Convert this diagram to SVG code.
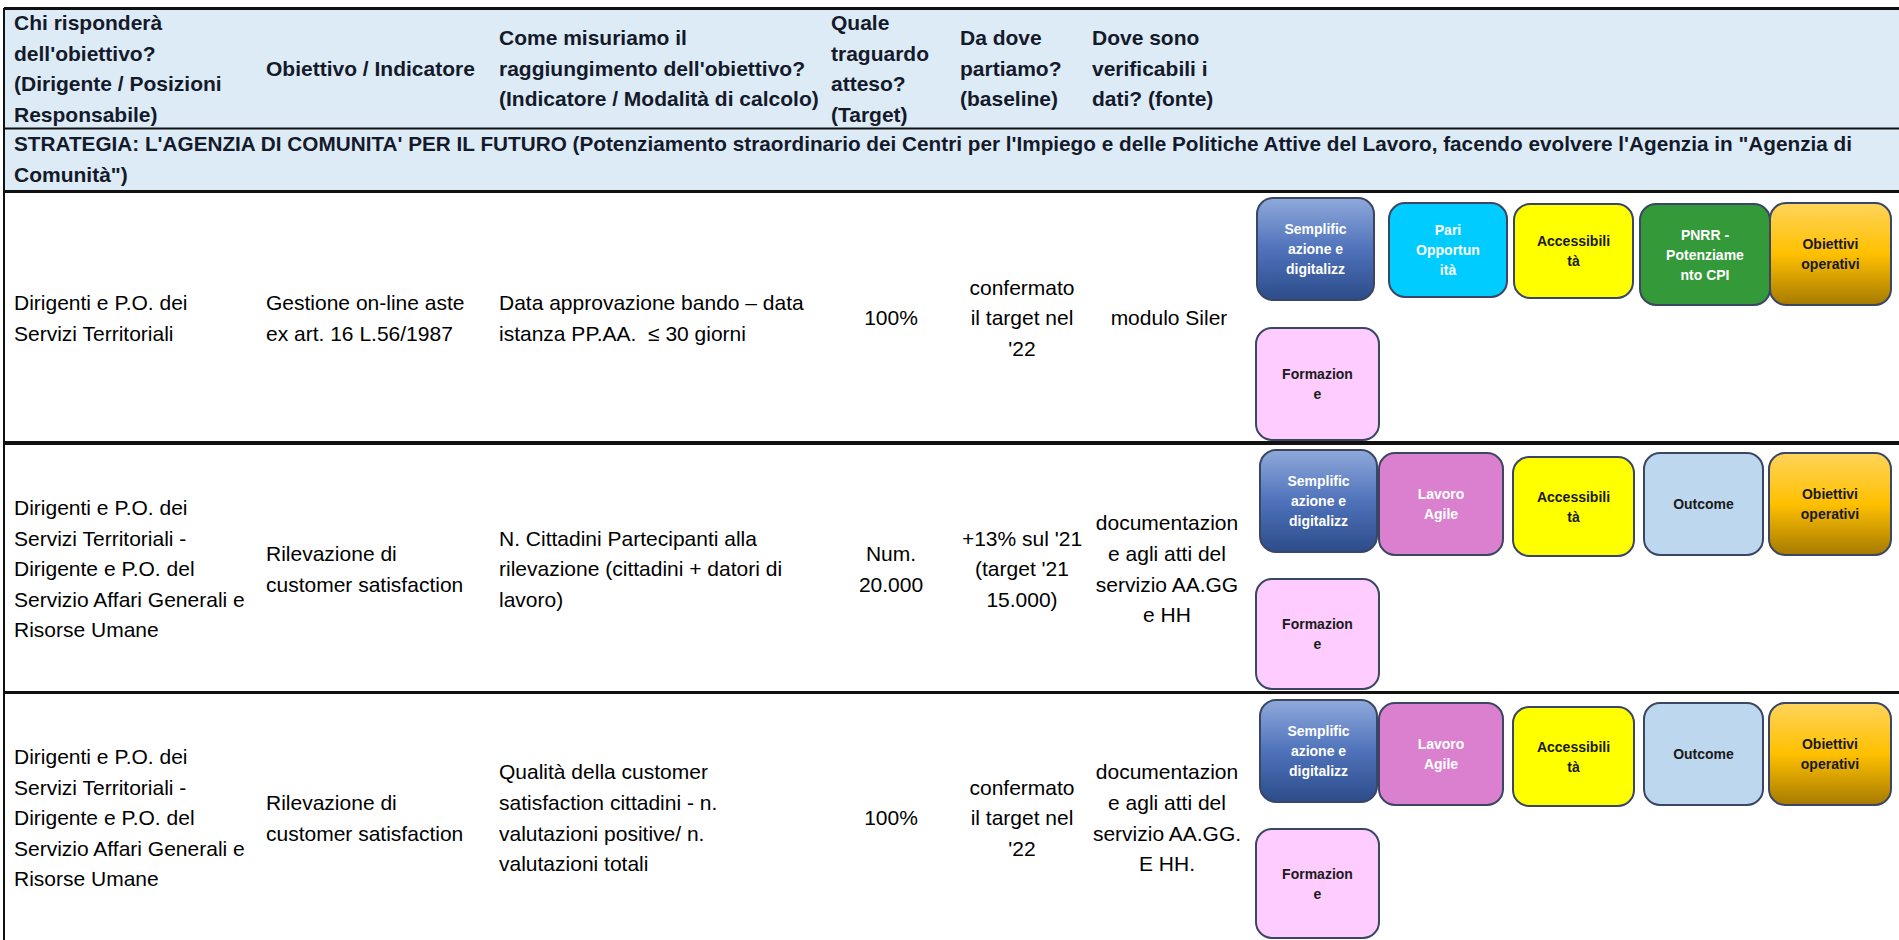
<svg xmlns="http://www.w3.org/2000/svg" width="1899" height="940" viewBox="0 0 1899 940">
<defs>
<linearGradient id="gSem" x1="0" y1="0" x2="0" y2="1">
<stop offset="0" stop-color="#8FA9DB"/><stop offset="0.5" stop-color="#4F72BA"/><stop offset="1" stop-color="#2C4C8A"/>
</linearGradient>
<linearGradient id="gObi" x1="0" y1="0" x2="0" y2="1">
<stop offset="0" stop-color="#FFD45A"/><stop offset="0.5" stop-color="#FFC000"/><stop offset="1" stop-color="#A67A00"/>
</linearGradient>
<style>
.h{font-family:"Liberation Sans",Arial,sans-serif;font-weight:bold;font-size:21px;fill:#141a2a}
.t{font-family:"Liberation Sans",Arial,sans-serif;font-size:21px;fill:#000}
.c{text-anchor:middle}
.b{font-family:"Liberation Sans",Arial,sans-serif;font-weight:bold;font-size:14px;text-anchor:middle}
.w{fill:#fff}
.k{fill:#1a1a1a}
.btn{stroke:#3A4663;stroke-width:2}
.ln{stroke:#111;fill:none}
</style>
</defs>
<rect x="0" y="0" width="1899" height="940" fill="#fff"/>
<rect x="4" y="8" width="1895" height="183" fill="#DDEBF7"/>
<g id="grid">
<path class="ln" d="M4 8.5H1899" stroke-width="3"/>
<path class="ln" d="M4 128.5H1899" stroke-width="2" stroke="#333"/>
<path class="ln" d="M4 191.5H1899" stroke-width="3"/>
<path class="ln" d="M4 443H1899" stroke-width="4"/>
<path class="ln" d="M4 692.5H1899" stroke-width="3"/>
<path class="ln" d="M4 8V940" stroke-width="2"/>
</g>
<g id="header">
<text class="h"><tspan x="14" y="30">Chi risponderà</tspan><tspan x="14" y="60.5">dell'obiettivo?</tspan><tspan x="14" y="91">(Dirigente / Posizioni</tspan><tspan x="14" y="121.5">Responsabile)</tspan></text>
<text class="h" x="266" y="75.5">Obiettivo / Indicatore</text>
<text class="h"><tspan x="499" y="45">Come misuriamo il</tspan><tspan x="499" y="75.5">raggiungimento dell'obiettivo?</tspan><tspan x="499" y="106">(Indicatore / Modalità di calcolo)</tspan></text>
<text class="h"><tspan x="831" y="30">Quale</tspan><tspan x="831" y="60.5">traguardo</tspan><tspan x="831" y="91">atteso?</tspan><tspan x="831" y="121.5">(Target)</tspan></text>
<text class="h"><tspan x="960" y="45">Da dove</tspan><tspan x="960" y="75.5">partiamo?</tspan><tspan x="960" y="106">(baseline)</tspan></text>
<text class="h"><tspan x="1092" y="45">Dove sono</tspan><tspan x="1092" y="75.5">verificabili i</tspan><tspan x="1092" y="106">dati? (fonte)</tspan></text>
</g>
<g id="strategy">
<text class="h"><tspan x="14" y="151" textLength="1838" lengthAdjust="spacingAndGlyphs">STRATEGIA: L'AGENZIA DI COMUNITA' PER IL FUTURO (Potenziamento straordinario dei Centri per l'Impiego e delle Politiche Attive del Lavoro, facendo evolvere l'Agenzia in "Agenzia di</tspan><tspan x="14" y="181.5">Comunità")</tspan></text>
</g>
<g id="row1">
<text class="t"><tspan x="14" y="310">Dirigenti e P.O. dei</tspan><tspan x="14" y="340.5">Servizi Territoriali</tspan></text>
<text class="t"><tspan x="266" y="310">Gestione on-line aste</tspan><tspan x="266" y="340.5">ex art. 16 L.56/1987</tspan></text>
<text class="t"><tspan x="499" y="310">Data approvazione bando – data</tspan><tspan x="499" y="340.5">istanza PP.AA. &#160;≤ 30 giorni</tspan></text>
<text class="t c" x="891" y="325">100%</text>
<text class="t c"><tspan x="1022" y="294.5">confermato</tspan><tspan x="1022" y="325">il target nel</tspan><tspan x="1022" y="355.5">'22</tspan></text>
<text class="t c" x="1169" y="325">modulo Siler</text>
</g>
<g id="row2">
<text class="t"><tspan x="14" y="515">Dirigenti e P.O. dei</tspan><tspan x="14" y="545.5">Servizi Territoriali -</tspan><tspan x="14" y="576">Dirigente e P.O. del</tspan><tspan x="14" y="606.5">Servizio Affari Generali e</tspan><tspan x="14" y="637">Risorse Umane</tspan></text>
<text class="t"><tspan x="266" y="561">Rilevazione di</tspan><tspan x="266" y="591.5">customer satisfaction</tspan></text>
<text class="t"><tspan x="499" y="545.5">N. Cittadini Partecipanti alla</tspan><tspan x="499" y="576">rilevazione (cittadini + datori di</tspan><tspan x="499" y="606.5">lavoro)</tspan></text>
<text class="t c"><tspan x="891" y="561">Num.</tspan><tspan x="891" y="591.5">20.000</tspan></text>
<text class="t c"><tspan x="1022" y="545.5">+13% sul '21</tspan><tspan x="1022" y="576">(target '21</tspan><tspan x="1022" y="606.5">15.000)</tspan></text>
<text class="t c"><tspan x="1167" y="530">documentazion</tspan><tspan x="1167" y="561">e agli atti del</tspan><tspan x="1167" y="591.5">servizio AA.GG</tspan><tspan x="1167" y="622">e HH</tspan></text>
</g>
<g id="row3">
<text class="t"><tspan x="14" y="764">Dirigenti e P.O. dei</tspan><tspan x="14" y="794.5">Servizi Territoriali -</tspan><tspan x="14" y="825">Dirigente e P.O. del</tspan><tspan x="14" y="855.5">Servizio Affari Generali e</tspan><tspan x="14" y="886">Risorse Umane</tspan></text>
<text class="t"><tspan x="266" y="810">Rilevazione di</tspan><tspan x="266" y="840.5">customer satisfaction</tspan></text>
<text class="t"><tspan x="499" y="779">Qualità della customer</tspan><tspan x="499" y="810">satisfaction cittadini - n.</tspan><tspan x="499" y="840.5">valutazioni positive/ n.</tspan><tspan x="499" y="871">valutazioni totali</tspan></text>
<text class="t c" x="891" y="825">100%</text>
<text class="t c"><tspan x="1022" y="794.5">confermato</tspan><tspan x="1022" y="825">il target nel</tspan><tspan x="1022" y="855.5">'22</tspan></text>
<text class="t c"><tspan x="1167" y="779">documentazion</tspan><tspan x="1167" y="810">e agli atti del</tspan><tspan x="1167" y="840.5">servizio AA.GG.</tspan><tspan x="1167" y="871">E HH.</tspan></text>
</g>
<g id="r1-semplificazione"><rect class="btn" x="1257" y="198" width="117" height="102" rx="16" fill="url(#gSem)"/><text class="b w"><tspan x="1315.5" y="234">Semplific</tspan><tspan x="1315.5" y="254">azione e</tspan><tspan x="1315.5" y="274">digitalizz</tspan></text></g>
<g id="r1-pari"><rect class="btn" x="1389" y="203" width="118" height="94" rx="16" fill="#00CCFF"/><text class="b w"><tspan x="1448" y="235">Pari</tspan><tspan x="1448" y="255">Opportun</tspan><tspan x="1448" y="275">ità</tspan></text></g>
<g id="r1-accessibilita"><rect class="btn" x="1514" y="204" width="119" height="94" rx="16" fill="#FFFF00"/><text class="b k"><tspan x="1573.5" y="246">Accessibili</tspan><tspan x="1573.5" y="266">tà</tspan></text></g>
<g id="r1-pnrr"><rect class="btn" x="1640" y="204" width="130" height="101" rx="16" fill="#339939"/><text class="b w"><tspan x="1705" y="240">PNRR -</tspan><tspan x="1705" y="260">Potenziame</tspan><tspan x="1705" y="280">nto CPI</tspan></text></g>
<g id="r1-obiettivi"><rect class="btn" x="1770" y="203" width="121" height="102" rx="16" fill="url(#gObi)"/><text class="b k"><tspan x="1830.5" y="249">Obiettivi</tspan><tspan x="1830.5" y="269">operativi</tspan></text></g>
<g id="r1-formazione"><rect class="btn" x="1256" y="328" width="123" height="112" rx="16" fill="#FFCCFF"/><text class="b k"><tspan x="1317.5" y="379">Formazion</tspan><tspan x="1317.5" y="399">e</tspan></text></g>
<g id="r2-semplificazione"><rect class="btn" x="1260" y="450" width="117" height="102" rx="16" fill="url(#gSem)"/><text class="b w"><tspan x="1318.5" y="486">Semplific</tspan><tspan x="1318.5" y="506">azione e</tspan><tspan x="1318.5" y="526">digitalizz</tspan></text></g>
<g id="r2-lavoro"><rect class="btn" x="1379" y="453" width="124" height="102" rx="16" fill="#DA80CE"/><text class="b w"><tspan x="1441" y="499">Lavoro</tspan><tspan x="1441" y="519">Agile</tspan></text></g>
<g id="r2-accessibilita"><rect class="btn" x="1513" y="457" width="121" height="99" rx="16" fill="#FFFF00"/><text class="b k"><tspan x="1573.5" y="501.5">Accessibili</tspan><tspan x="1573.5" y="521.5">tà</tspan></text></g>
<g id="r2-outcome"><rect class="btn" x="1644" y="453" width="119" height="102" rx="16" fill="#BDD7EE"/><text class="b k" x="1703.5" y="509">Outcome</text></g>
<g id="r2-obiettivi"><rect class="btn" x="1769" y="453" width="122" height="102" rx="16" fill="url(#gObi)"/><text class="b k"><tspan x="1830" y="499">Obiettivi</tspan><tspan x="1830" y="519">operativi</tspan></text></g>
<g id="r2-formazione"><rect class="btn" x="1256" y="579" width="123" height="110" rx="16" fill="#FFCCFF"/><text class="b k"><tspan x="1317.5" y="629">Formazion</tspan><tspan x="1317.5" y="649">e</tspan></text></g>
<g id="r3-semplificazione"><rect class="btn" x="1260" y="700" width="117" height="102" rx="16" fill="url(#gSem)"/><text class="b w"><tspan x="1318.5" y="736">Semplific</tspan><tspan x="1318.5" y="756">azione e</tspan><tspan x="1318.5" y="776">digitalizz</tspan></text></g>
<g id="r3-lavoro"><rect class="btn" x="1379" y="703" width="124" height="102" rx="16" fill="#DA80CE"/><text class="b w"><tspan x="1441" y="749">Lavoro</tspan><tspan x="1441" y="769">Agile</tspan></text></g>
<g id="r3-accessibilita"><rect class="btn" x="1513" y="707" width="121" height="99" rx="16" fill="#FFFF00"/><text class="b k"><tspan x="1573.5" y="751.5">Accessibili</tspan><tspan x="1573.5" y="771.5">tà</tspan></text></g>
<g id="r3-outcome"><rect class="btn" x="1644" y="703" width="119" height="102" rx="16" fill="#BDD7EE"/><text class="b k" x="1703.5" y="759">Outcome</text></g>
<g id="r3-obiettivi"><rect class="btn" x="1769" y="703" width="122" height="102" rx="16" fill="url(#gObi)"/><text class="b k"><tspan x="1830" y="749">Obiettivi</tspan><tspan x="1830" y="769">operativi</tspan></text></g>
<g id="r3-formazione"><rect class="btn" x="1256" y="829" width="123" height="109" rx="16" fill="#FFCCFF"/><text class="b k"><tspan x="1317.5" y="879">Formazion</tspan><tspan x="1317.5" y="899">e</tspan></text></g>
<g id="connectors"/>
</svg>
